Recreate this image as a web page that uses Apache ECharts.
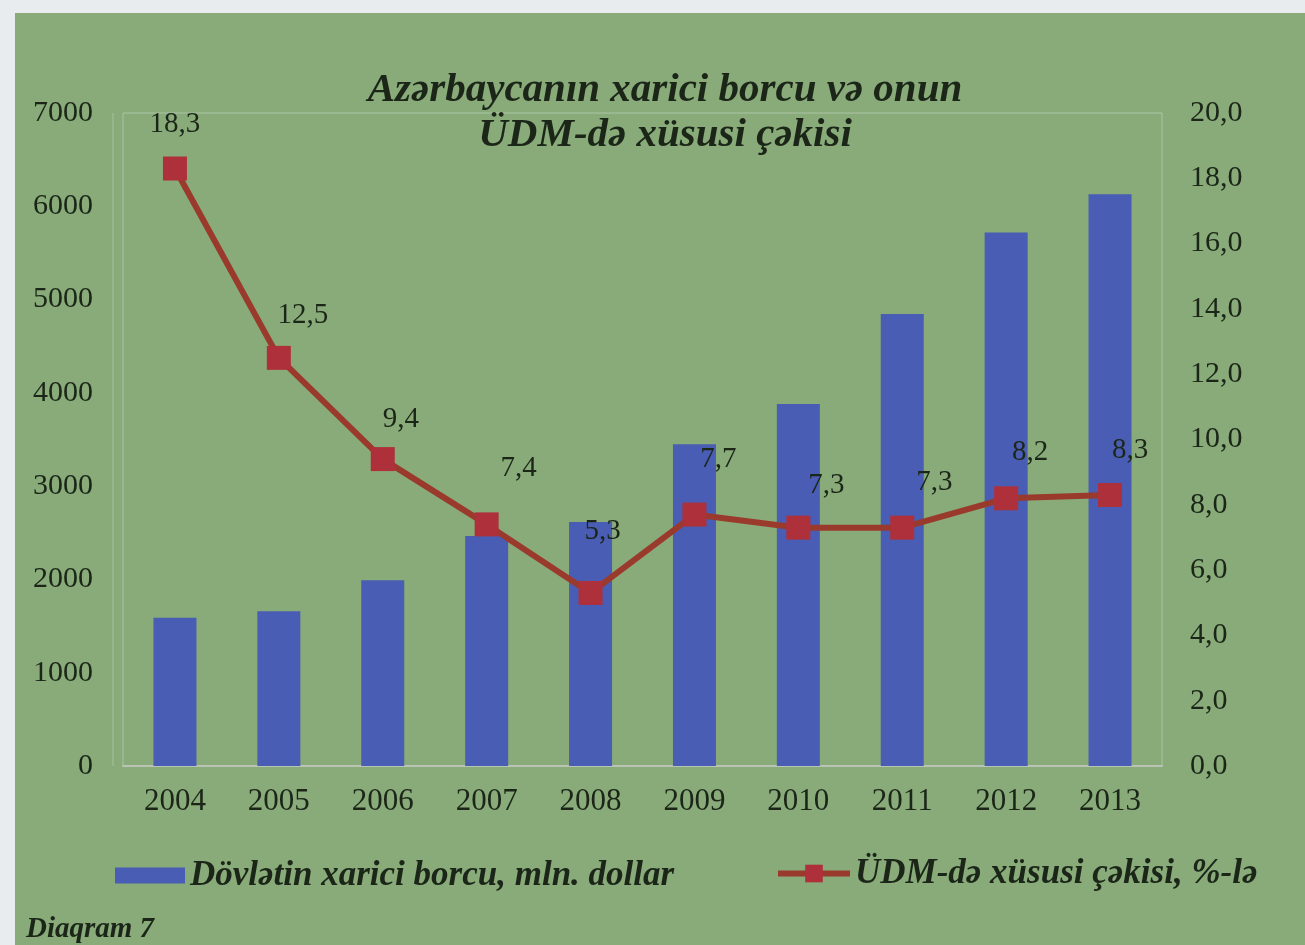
<!DOCTYPE html>
<html>
<head>
<meta charset="utf-8">
<script src="https://cdn.jsdelivr.net/npm/echarts@6/dist/echarts.min.js"></script>
<style>
  html, body { margin: 0; padding: 0; background: #e9ecee; }
  #chart { width: 1305px; height: 945px; }
</style>
</head>
<body>
<div id="chart"></div>
<script>
// Years on the category axis
const years = ['2004', '2005', '2006', '2007', '2008', '2009', '2010', '2011', '2012', '2013'];
// State external debt, mln. dollars (bars, left axis)
const externalDebt = [1590, 1660, 1990, 2465, 2615, 3450, 3880, 4845, 5720, 6130];
// Share in GDP, % (line, right axis)
const gdpShare = [18.3, 12.5, 9.4, 7.4, 5.3, 7.7, 7.3, 7.3, 8.2, 8.3];
// Series names used in the legend
const debtName = 'Dövlətin xarici borcu, mln. dollar';
const shareName = 'ÜDM-də xüsusi çəkisi, %-lə';
// Value label nudges for the line, [dx, dy]
const labelNudges = [[0, -44], [24, -42], [18, -40], [32, -56], [12, -62], [24, -55], [28, -42], [32, -45], [24, -46], [20, -45]];

const serif = '"Liberation Serif", "DejaVu Serif", serif';
const ink = '#1b2618';
const comma = v => v.toFixed(1).replace('.', ',');

const chart = echarts.init(document.getElementById('chart'), null, { renderer: 'canvas' });

chart.setOption({
  backgroundColor: '#e9ecee',
  animation: false,
  graphic: [
    { type: 'rect', z: -10, shape: { x: 15, y: 13, width: 1290, height: 932 }, style: { fill: '#88ab79' } },
    // faint frame line on the left of the plot area
    { type: 'line', z: -5, shape: { x1: 113, y1: 113, x2: 113, y2: 766 }, style: { stroke: 'rgba(220,230,220,0.4)', lineWidth: 1 } },
    { type: 'text', left: 26, top: 915, style: { text: 'Diaqram 7', font: 'italic bold 29px ' + serif, fill: ink } }
  ],
  title: {
    text: 'Azərbaycanın xarici borcu və onun\nÜDM-də xüsusi çəkisi',
    left: 660,
    top: 63,
    textAlign: 'center',
    textStyle: { fontFamily: serif, fontStyle: 'italic', fontWeight: 'bold', fontSize: 41, lineHeight: 45, color: ink }
  },
  legend: [
    {
      data: [{ name: debtName, icon: 'rect' }], left: 110, top: 853, itemWidth: 70, itemHeight: 16, itemGap: 10,
      textStyle: { fontFamily: serif, fontStyle: 'italic', fontWeight: 'bold', fontSize: 35, color: ink }
    },
    {
      data: [shareName], left: 770, top: 851, itemWidth: 72, itemHeight: 22,
      lineStyle: { width: 6 },
      textStyle: { fontFamily: serif, fontStyle: 'italic', fontWeight: 'bold', fontSize: 35, color: ink }
    }
  ],
  grid: { left: 123, right: 143, top: 113, bottom: 179, show: true, borderColor: 'rgba(220,230,220,0.45)', borderWidth: 1 },
  xAxis: {
    type: 'category',
    data: years,
    axisLine: { lineStyle: { color: '#b9c4b6', width: 2 } },
    axisTick: { show: false },
    axisLabel: { fontFamily: serif, fontSize: 31, color: ink, margin: 20 }
  },
  yAxis: [
    {
      type: 'value', min: 0, max: 7000, interval: 1000,
      splitLine: { show: false }, axisLine: { show: false }, axisTick: { show: false },
      axisLabel: { fontFamily: serif, fontSize: 30, color: ink, margin: 30, formatter: v => String(v) }
    },
    {
      type: 'value', min: 0, max: 20, interval: 2,
      splitLine: { show: false }, axisLine: { show: false }, axisTick: { show: false },
      axisLabel: { fontFamily: serif, fontSize: 30, color: ink, margin: 28, formatter: comma }
    }
  ],
  series: [
    {
      name: debtName,
      type: 'bar',
      data: externalDebt,
      barWidth: 43,
      itemStyle: { color: '#4a5db4' }
    },
    {
      name: shareName,
      type: 'line',
      yAxisIndex: 1,
      data: gdpShare.map((v, i) => ({
        value: v,
        label: { offset: labelNudges[i] }
      })),
      symbol: 'rect',
      symbolSize: 24,
      lineStyle: { color: '#9a3a2c', width: 6 },
      itemStyle: { color: '#ae303a' },
      label: {
        show: true,
        position: 'inside',
        fontFamily: serif,
        fontSize: 29,
        color: ink,
        formatter: p => comma(p.value)
      }
    }
  ]
});
</script>
</body>
</html>
